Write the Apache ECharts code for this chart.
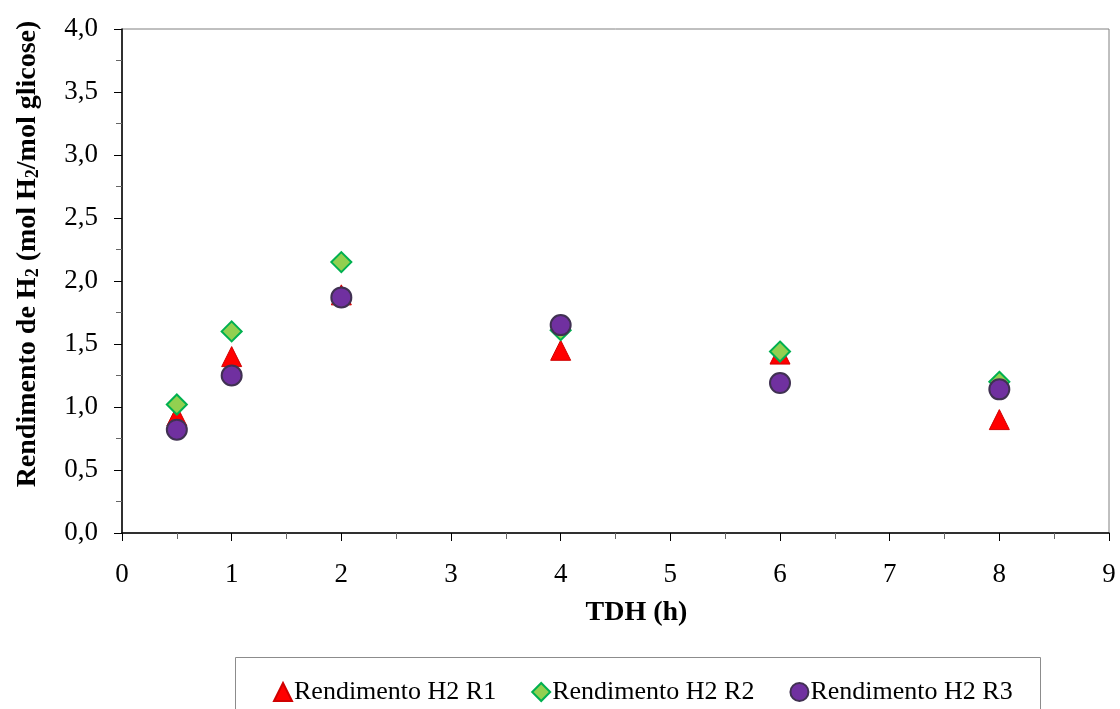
<!DOCTYPE html>
<html>
<head>
<meta charset="utf-8">
<script src="https://cdn.jsdelivr.net/npm/echarts@6/dist/echarts.min.js"></script>
<style>
  html, body { margin: 0; padding: 0; background: #fff; }
  #main { width: 1120px; height: 709px; }
</style>
</head>
<body>
<div id="main"></div>
<script>
// TDH (h) on x
var tdh = [0.5, 1, 2, 4, 6, 8];
// yields per reactor
var r1 = [0.93, 1.40, 1.89, 1.45, 1.42, 0.90];
var r2 = [1.02, 1.60, 2.15, 1.61, 1.44, 1.20];
var r3 = [0.82, 1.25, 1.87, 1.65, 1.19, 1.14];
var seriesNames = ['Rendimento H2 R1', 'Rendimento H2 R2', 'Rendimento H2 R3'];

var font = 'Liberation Serif';

function pairs(ys) {
    return tdh.map(function (x, i) { return [x, ys[i]]; });
}

var chart = echarts.init(document.getElementById('main'));

chart.setOption({
    backgroundColor: '#fff',
    animation: false,
    textStyle: { fontFamily: font, color: '#000' },
    grid: {
        left: 122, right: 11, top: 29, bottom: 176,
        show: true, borderColor: '#808080', borderWidth: 1
    },
    xAxis: {
        type: 'value', min: 0, max: 9, interval: 1,
        name: 'TDH (h)', nameLocation: 'middle', nameGap: 66,
        nameTextStyle: { fontFamily: font, fontSize: 28, fontWeight: 'bold', color: '#000', padding: [0, 0, 0, 42] },
        axisLine: { show: true, onZero: false, lineStyle: { color: '#000', width: 1.5 } },
        axisTick: { show: true, inside: false, length: 8, lineStyle: { color: '#000' } },
        minorTick: { show: true, splitNumber: 2, length: 6, lineStyle: { color: '#666' } },
        axisLabel: { fontFamily: font, fontSize: 27, color: '#000', margin: 28 },
        splitLine: { show: false }
    },
    yAxis: {
        type: 'value', min: 0, max: 4, interval: 0.5,
        name: 'Rendimento de H{sub|2} (mol H{sub|2}/mol glicose)',
        nameLocation: 'middle', nameGap: 80,
        nameTextStyle: {
            fontFamily: font, fontSize: 28, fontWeight: 'bold', color: '#000', lineHeight: 28,
            padding: [0, 0, 0, 54],
            rich: {
                sub: { fontFamily: font, fontSize: 18, fontWeight: 'bold', color: '#000', lineHeight: 14, verticalAlign: 'bottom' }
            }
        },
        axisLine: { show: true, onZero: false, lineStyle: { color: '#000', width: 1.5 } },
        axisTick: { show: true, inside: false, length: 8, lineStyle: { color: '#000' } },
        minorTick: { show: true, splitNumber: 2, length: 6, lineStyle: { color: '#666' } },
        axisLabel: {
            fontFamily: font, fontSize: 27, color: '#000', margin: 24,
            formatter: function (v) { return v.toFixed(1).replace('.', ','); }
        },
        splitLine: { show: false }
    },
    legend: {
        left: 268, top: 674,
        itemWidth: 18, itemHeight: 18, itemGap: 35,
        textStyle: { fontFamily: font, fontSize: 26, color: '#000', padding: [0, 0, 0, -3] },
        data: seriesNames
    },
    graphic: [{
        type: 'rect', silent: true, z: -1,
        shape: { x: 235.5, y: 657.5, width: 805, height: 70 },
        style: { fill: '#fff', stroke: '#8c8c8c', lineWidth: 1 }
    }],
    series: [{
        name: seriesNames[0], type: 'scatter', symbol: 'triangle', symbolSize: 20,
        itemStyle: { color: '#ff0000', borderColor: '#d00000', borderWidth: 1, opacity: 1 },
        data: pairs(r1)
    }, {
        name: seriesNames[1], type: 'scatter', symbol: 'diamond', symbolSize: 20,
        itemStyle: { color: '#92d050', borderColor: '#00b050', borderWidth: 2, opacity: 1 },
        data: pairs(r2)
    }, {
        name: seriesNames[2], type: 'scatter', symbol: 'circle', symbolSize: 20,
        itemStyle: { color: '#7030a0', borderColor: '#403152', borderWidth: 2, opacity: 1 },
        data: pairs(r3)
    }]
});
</script>
</body>
</html>
